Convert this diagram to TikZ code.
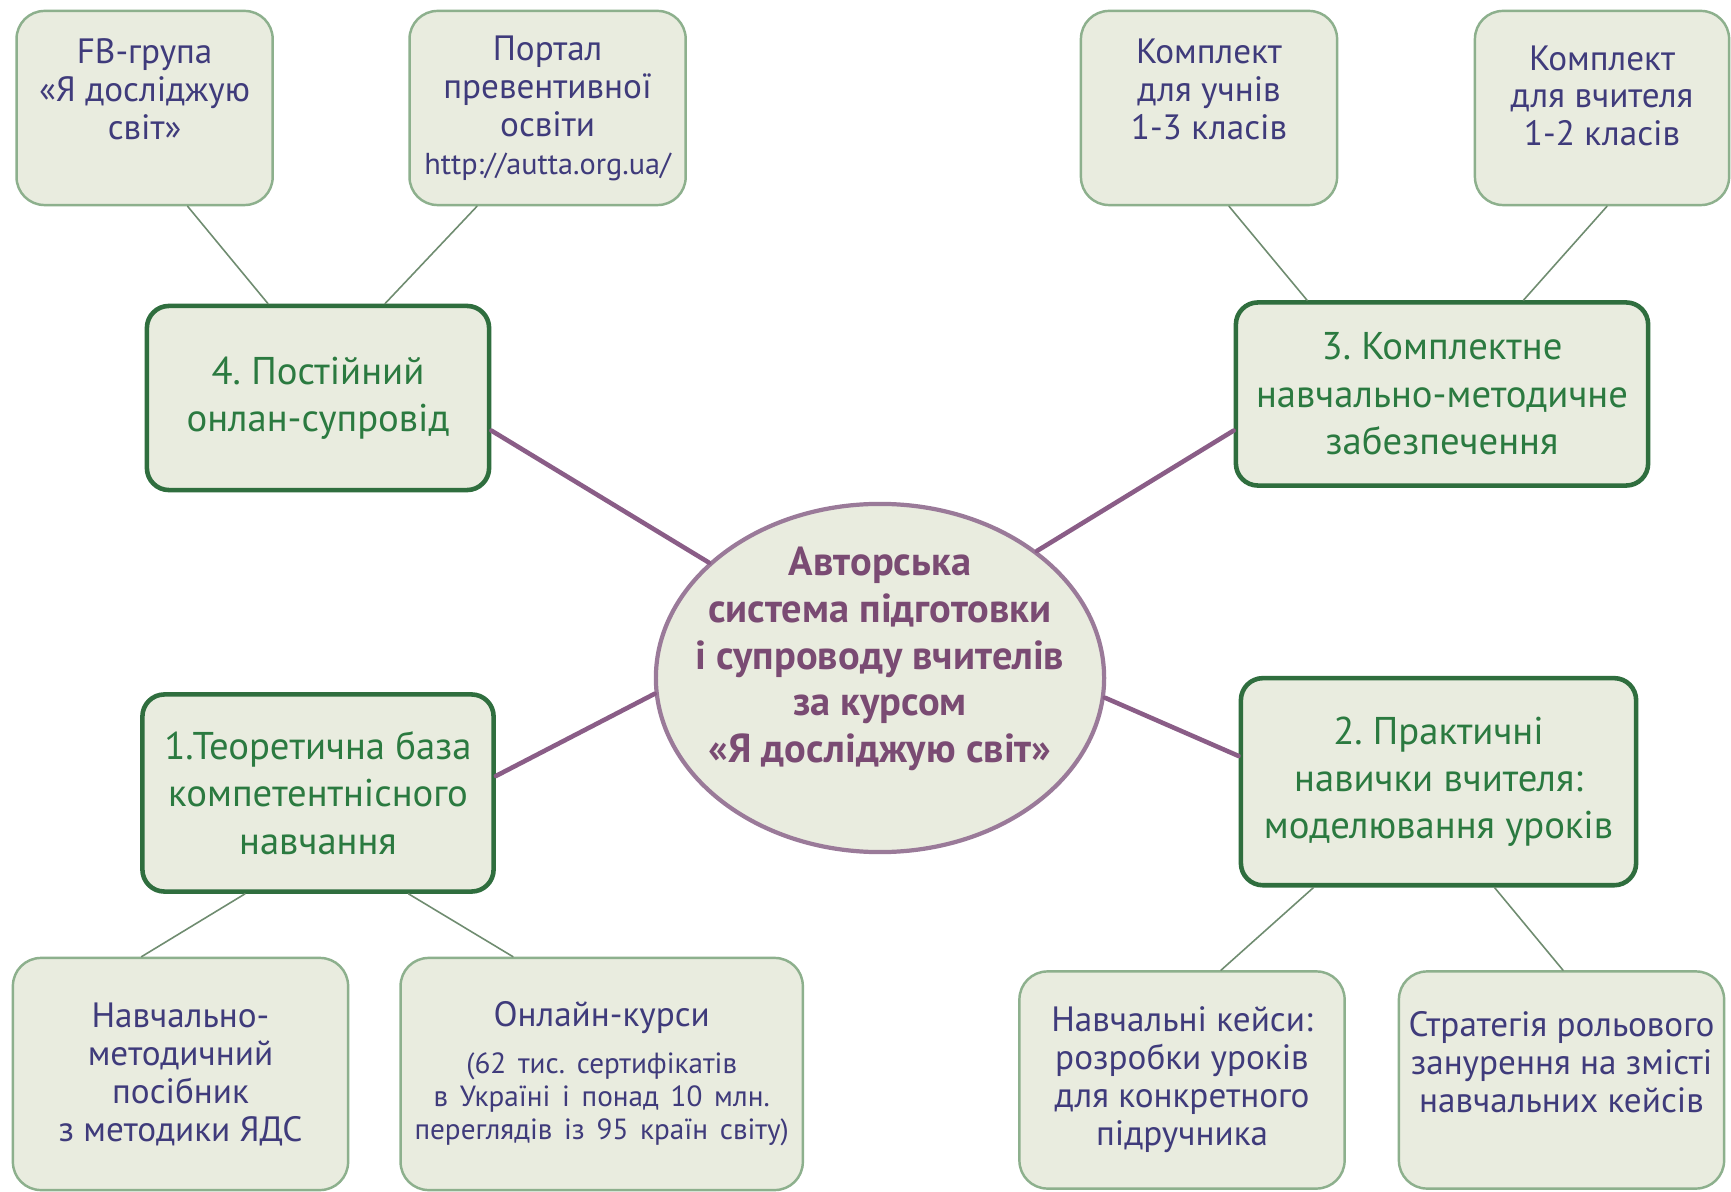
\documentclass[tikz,border=0pt]{standalone}
\usepackage{fontspec}
\setmainfont{PT Sans}
\usetikzlibrary{shapes.geometric,calc}
\definecolor{boxfill}{HTML}{E9ECDF}
\definecolor{boxline}{HTML}{8DB08D}
\definecolor{mainline}{HTML}{2F6E3E}
\definecolor{maintext}{HTML}{2B7A40}
\definecolor{subtext}{HTML}{3F3B7B}
\definecolor{hubline}{HTML}{9A7A99}
\definecolor{hubtext}{HTML}{7A4B73}
\definecolor{spokecol}{HTML}{8A5D87}
\definecolor{twigcol}{HTML}{6F8C70}
\frenchspacing
\begin{document}
\begin{tikzpicture}[x=.01cm, y=-.01cm, line join=round, line cap=round,
 sub/.style={draw=boxline, line width=.7pt, fill=boxfill, rounded corners=.28cm, align=center, text=subtext, font=\fontsize{10}{10.8}\selectfont, inner sep=0pt},
 main/.style={draw=mainline, line width=1.3pt, fill=boxfill, rounded corners=.22cm, align=center, text=maintext, font=\fontsize{11}{13.5}\selectfont, inner sep=0pt},
 twig/.style={draw=twigcol, line width=.45pt},
 spoke/.style={draw=spokecol, line width=1.3pt}]
\fill[white] (0,0) rectangle (1731,1192);
\node[sub, minimum width=2.56cm, minimum height=1.94cm, text depth=10.5pt] (fb) at (144.6,108) {FB-група\\«Я досліджую\\світ»};
\node[sub, minimum width=2.76cm, minimum height=1.94cm] (portal) at (547.6,108) {Портал\\превентивної\\освіти\\{\fontsize{8.6}{10}\selectfont http://autta.org.ua/}};
\node[sub, minimum width=2.56cm, minimum height=1.94cm, text depth=10.5pt] (pupil) at (1209,108) {Комплект\\для учнів\\1-3 класів};
\node[sub, minimum width=2.54cm, minimum height=1.94cm, text depth=7pt] (teacher) at (1602,108) {Комплект\\для вчителя\\1-2 класів};
\node[main, minimum width=3.42cm, minimum height=1.84cm] (on) at (318,398) {4. Постійний\\онлан-супровід};
\node[main, minimum width=4.12cm, minimum height=1.83cm] (kit) at (1442,394) {3. Комплектне\\навчально-методичне\\забезпечення};
\node[ellipse, draw=hubline, line width=1.2pt, fill=boxfill, minimum width=4.48cm, minimum height=3.48cm, inner sep=0pt] (hub) at (880,678) {};
\node[align=center, text=hubtext, font=\fontsize{11.5}{13.3}\selectfont\bfseries] (hublabel) at (880,659) {Авторська\\система підготовки\\і супроводу вчителів\\за курсом\\«Я досліджую світ»};
\node[main, minimum width=3.51cm, minimum height=1.97cm] (theory) at (318,793) {1.Теоретична база\\компетентнісного\\навчання};
\node[main, minimum width=3.95cm, minimum height=2.07cm] (skill) at (1438.5,781.7) {2. Практичні\\навички вчителя:\\моделювання уроків};
\node[sub, minimum width=3.35cm, minimum height=2.32cm] (manual) at (180.5,1074) {Навчально-\\методичний\\посібник\\з методики ЯДС};
\node[sub, minimum width=4.02cm, minimum height=2.32cm, text width=3.9cm] (course) at (601.7,1074) {Онлайн-курси\\[4pt]{\fontsize{8.3}{9.4}\selectfont (62 тис. сертифікатів\\в Україні і понад 10 млн.\\переглядів із 95 країн світу)\par}};
\node[sub, minimum width=3.25cm, minimum height=2.17cm] (cases) at (1182,1080) {Навчальні кейси:\\розробки уроків\\для конкретного\\підручника};
\node[sub, minimum width=3.25cm, minimum height=2.17cm, text depth=10pt] (role) at (1561.5,1080) {Стратегія рольового\\занурення на змісті\\навчальних кейсів};
\draw[twig] ($(fb.south)+(43,0)$) -- ($(on.north)+(-50,0)$);
\draw[twig] ($(portal.south)+(-70.6,0)$) -- ($(on.north)+(67,0)$);
\draw[twig] ($(pupil.south)+(20,0)$) -- ($(kit.north)+(-135,0)$);
\draw[twig] ($(teacher.south)+(5,0)$) -- ($(kit.north)+(81.5,0)$);
\draw[twig] ($(theory.south)+(-73,0)$) -- ($(manual.north)+(-39,0)$);
\draw[twig] ($(theory.south)+(90.5,0)$) -- ($(course.north)+(-88.7,0)$);
\draw[twig] ($(skill.south)+(-125,0)$) -- ($(cases.north)+(39,0)$);
\draw[twig] ($(skill.south)+(56,0)$) -- ($(role.north)+(1.5,0)$);
\draw[spoke] ($(on.east)+(0,32.6)$) -- (hub.146);
\draw[spoke] ($(kit.west)+(0,36.6)$) -- (hub.39);
\draw[spoke] ($(theory.east)+(0,-17)$) -- (hub.184);
\draw[spoke] ($(skill.west)+(0,-25.7)$) -- (hub.355);
\end{tikzpicture}
\end{document}
